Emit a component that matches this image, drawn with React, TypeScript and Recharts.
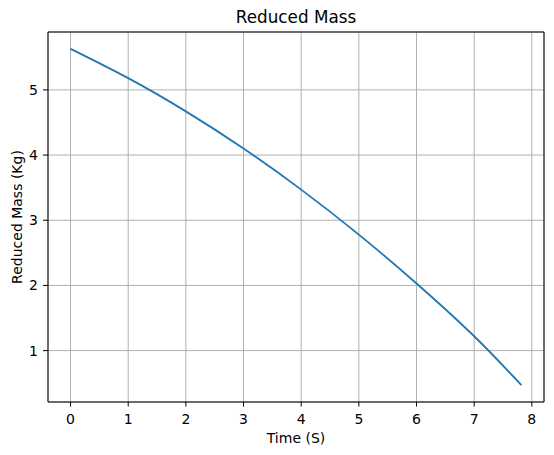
import { LineChart, Line, XAxis, YAxis, CartesianGrid } from 'recharts';

// values
const time = [0, 1, 2, 3, 4, 5, 6, 7, 7.82];
const reducedMass = [5.63, 5.18, 4.67, 4.1, 3.47, 2.78, 2.03, 1.22, 0.47];

const xTicks = [0, 1, 2, 3, 4, 5, 6, 7, 8];
const yTicks = [1, 2, 3, 4, 5];

const data = time.map((t, i) => ({ t, m: reducedMass[i] }));

const font = 'DejaVu Sans, sans-serif';

function XTick(props: any) {
  const { x, y, payload } = props;
  return (
    <text x={x} y={y} dy={13} textAnchor="middle" fill="#000" fontSize={14} fontFamily={font}>
      {payload.value}
    </text>
  );
}

function YTick(props: any) {
  const { x, y, payload } = props;
  return (
    <text x={x} y={y} dy={5} textAnchor="end" fill="#000" fontSize={14} fontFamily={font}>
      {payload.value}
    </text>
  );
}

export default function App() {
  return (
    <div style={{ position: 'absolute', left: 0, top: 0, background: '#fff' }}>
      <LineChart width={554} height={455} data={data} margin={{ top: 0, right: 0, bottom: 0, left: 0 }}>
        <CartesianGrid stroke="#b0b0b0" strokeWidth={1} />
        <XAxis
          dataKey="t"
          type="number"
          domain={[-0.391, 8.211]}
          ticks={xTicks}
          allowDataOverflow
          height={53}
          stroke="#000"
          tickSize={4.5}
          tickMargin={4}
          tick={<XTick />}
          label={{ value: 'Time (S)', position: 'center', dy: 10, fill: '#000', fontSize: 14, fontFamily: font }}
        />
        <XAxis
          xAxisId="top"
          orientation="top"
          type="number"
          domain={[-0.391, 8.211]}
          ticks={[]}
          tick={false}
          tickLine={false}
          height={32}
          stroke="#000"
          label={{ value: 'Reduced Mass', position: 'center', dy: 1, fill: '#000', fontSize: 16.8, fontFamily: font }}
        />
        <YAxis
          type="number"
          domain={[0.2115, 5.888]}
          ticks={yTicks}
          allowDataOverflow
          width={48}
          stroke="#000"
          tickSize={5}
          tickMargin={5}
          tick={<YTick />}
          label={{ value: 'Reduced Mass (Kg)', angle: -90, position: 'center', dx: -7, fill: '#000', fontSize: 14, fontFamily: font }}
        />
        <YAxis
          yAxisId="right"
          orientation="right"
          type="number"
          domain={[0.2115, 5.888]}
          ticks={[]}
          tick={false}
          tickLine={false}
          width={10}
          stroke="#000"
        />
        <Line
          dataKey="m"
          type="natural"
          stroke="#1f77b4"
          strokeWidth={1.8}
          dot={false}
          isAnimationActive={false}
        />
      </LineChart>
    </div>
  );
}
